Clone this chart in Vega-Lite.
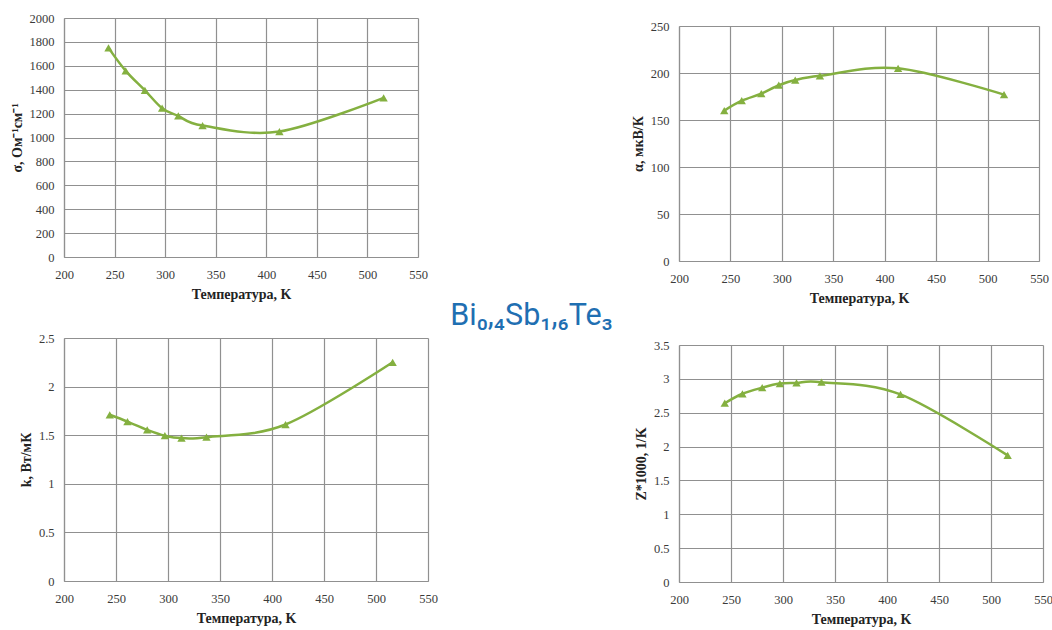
{
  "$schema": "https://vega.github.io/schema/vega-lite/v6.json",
  "padding": {"top": 12, "left": 10, "right": 5, "bottom": 5},
  "background": "white",
  "datasets": {
    "bst": [
      {"T": 244, "sigma": 1750, "alpha": 160, "k": 1.71, "Z": 2.64},
      {"T": 261, "sigma": 1558, "alpha": 170.5, "k": 1.64, "Z": 2.78},
      {"T": 280, "sigma": 1395, "alpha": 178, "k": 1.555, "Z": 2.87},
      {"T": 297, "sigma": 1245, "alpha": 187, "k": 1.495, "Z": 2.93},
      {"T": 313, "sigma": 1180, "alpha": 192.5, "k": 1.47, "Z": 2.94},
      {"T": 337, "sigma": 1100, "alpha": 197, "k": 1.48, "Z": 2.95},
      {"T": 413, "sigma": 1050, "alpha": 205, "k": 1.61, "Z": 2.77},
      {"T": 516, "sigma": 1332, "alpha": 177, "k": 2.25, "Z": 1.87}
    ],
    "heading": [{"label": "Bi₀,₄Sb₁,₆Te₃"}],
    "empty": []
  },
  "config": {
    "view": {"stroke": null},
    "font": "Liberation Serif",
    "axis": {
      "grid": true,
      "gridColor": "#909090",
      "gridWidth": 1.2,
      "domainColor": "#909090",
      "domainWidth": 1.2,
      "ticks": false,
      "labelFont": "Liberation Serif",
      "labelFontSize": 12.5,
      "labelColor": "#3a3a3a",
      "labelFlush": false,
      "titleFont": "Liberation Serif",
      "titleFontSize": 14,
      "titleFontWeight": "bold",
      "titleColor": "#222222",
      "format": "~r"
    },
    "axisX": {"labelPadding": 11, "titlePadding": 7},
    "axisY": {"labelPadding": 10, "titlePadding": 5}
  },
  "spacing": 5,
  "hconcat": [
    {
      "spacing": 30,
      "columns": 1,
      "align": "none",
      "concat": [
        {
          "width": 354,
          "height": 239,
          "data": {"name": "bst"},
          "encoding": {
            "x": {"field": "T", "type": "quantitative", "scale": {"domain": [200, 550], "nice": false, "zero": false}, "axis": {"values": [200, 250, 300, 350, 400, 450, 500, 550], "title": "Температура, K"}},
            "y": {"field": "sigma", "type": "quantitative", "scale": {"domain": [0, 2000], "nice": false}, "axis": {"values": [0, 200, 400, 600, 800, 1000, 1200, 1400, 1600, 1800, 2000], "title": "σ, Ом⁻¹см⁻¹"}}
          },
          "layer": [
            {"mark": {"type": "line", "interpolate": "cardinal", "color": "#84b040", "strokeWidth": 2.5}},
            {"mark": {"type": "point", "shape": "triangle-up", "filled": true, "color": "#84b040", "size": 70, "opacity": 1}}
          ]
        },
        {
          "width": 364,
          "height": 243,
          "data": {"name": "bst"},
          "encoding": {
            "x": {"field": "T", "type": "quantitative", "scale": {"domain": [200, 550], "nice": false, "zero": false}, "axis": {"values": [200, 250, 300, 350, 400, 450, 500, 550], "title": "Температура, K"}},
            "y": {"field": "k", "type": "quantitative", "scale": {"domain": [0, 2.5], "nice": false}, "axis": {"values": [0, 0.5, 1, 1.5, 2, 2.5], "title": "k, Вт/мК"}}
          },
          "layer": [
            {"mark": {"type": "line", "interpolate": "cardinal", "color": "#84b040", "strokeWidth": 2.5}},
            {"mark": {"type": "point", "shape": "triangle-up", "filled": true, "color": "#84b040", "size": 70, "opacity": 1}}
          ]
        }
      ]
    },
    {
      "width": 183,
      "height": 596,
      "data": {"name": "heading"},
      "mark": {"type": "text", "font": "Roboto", "fontSize": 30.5, "color": "#1f6fb2", "align": "center", "baseline": "middle", "dx": -3},
      "encoding": {"text": {"field": "label", "type": "nominal"}}
    },
    {
      "spacing": 33,
      "columns": 1,
      "align": "none",
      "concat": [
        {
          "spacing": 1,
          "vconcat": [
            {
              "width": 10,
              "height": 1,
              "data": {"name": "empty"},
              "mark": {"type": "point", "opacity": 0}
            },
            {
              "width": 360,
              "height": 235,
              "data": {"name": "bst"},
              "encoding": {
                "x": {"field": "T", "type": "quantitative", "scale": {"domain": [200, 550], "nice": false, "zero": false}, "axis": {"values": [200, 250, 300, 350, 400, 450, 500, 550], "title": "Температура, K"}},
                "y": {"field": "alpha", "type": "quantitative", "scale": {"domain": [0, 250], "nice": false}, "axis": {"values": [0, 50, 100, 150, 200, 250], "title": "α, мкВ/К"}}
              },
              "layer": [
                {"mark": {"type": "line", "interpolate": "cardinal", "color": "#84b040", "strokeWidth": 2.5}},
                {"mark": {"type": "point", "shape": "triangle-up", "filled": true, "color": "#84b040", "size": 70, "opacity": 1}}
              ]
            }
          ]
        },
        {
          "width": 364,
          "height": 237,
          "data": {"name": "bst"},
          "encoding": {
            "x": {"field": "T", "type": "quantitative", "scale": {"domain": [200, 550], "nice": false, "zero": false}, "axis": {"values": [200, 250, 300, 350, 400, 450, 500, 550], "title": "Температура, K"}},
            "y": {"field": "Z", "type": "quantitative", "scale": {"domain": [0, 3.5], "nice": false}, "axis": {"values": [0, 0.5, 1, 1.5, 2, 2.5, 3, 3.5], "title": "Z*1000, 1/K"}}
          },
          "layer": [
            {"mark": {"type": "line", "interpolate": "cardinal", "color": "#84b040", "strokeWidth": 2.5}},
            {"mark": {"type": "point", "shape": "triangle-up", "filled": true, "color": "#84b040", "size": 70, "opacity": 1}}
          ]
        }
      ]
    }
  ]
}
